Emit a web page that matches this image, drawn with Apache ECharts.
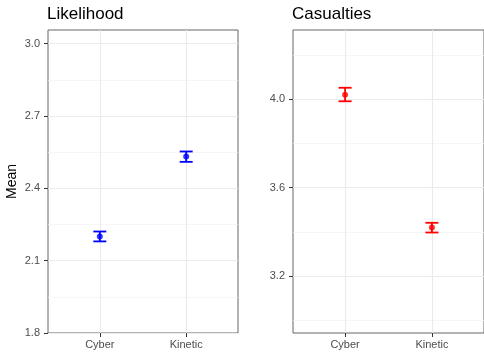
<!DOCTYPE html>
<html>
<head>
<meta charset="utf-8">
<script src="https://cdn.jsdelivr.net/npm/echarts@6/dist/echarts.min.js"></script>
<style>html,body{margin:0;padding:0;background:#fff}#c{width:484px;height:352px}</style>
</head>
<body>
<div id="c"></div>
<script>
const categories = ['Cyber', 'Kinetic'];
const likelihoodMean = [2.200, 2.532];
const likelihoodLow = [2.180, 2.510];
const likelihoodHigh = [2.221, 2.553];
const casualtiesMean = [4.020, 3.420];
const casualtiesLow = [3.990, 3.397];
const casualtiesHigh = [4.051, 3.441];
const likelihoodTicks = [1.8, 2.1, 2.4, 2.7, 3.0];
const likelihoodMinor = [1.95, 2.25, 2.55, 2.85];
const casualtiesTicks = [3.2, 3.6, 4.0];
const casualtiesMinor = [3.0, 3.4, 3.8, 4.2];
const panelTitles = ['Likelihood', 'Casualties'];

const FONT = '"Liberation Sans", Arial, Helvetica, sans-serif';
const catPos = categories.map((c, i) => i + 1);

function xAxisFor(gi) {
  return {
    type: 'value', gridIndex: gi, min: 0.4, max: 2.6,
    axisLine: {show: false},
    axisTick: {show: true, customValues: catPos, length: 4, lineStyle: {color: '#333', width: 1}},
    axisLabel: {customValues: catPos, formatter: v => categories[Math.round(v) - 1] || '',
      color: '#4d4d4d', fontSize: 11, fontFamily: FONT, margin: 6},
    splitLine: {show: true, lineStyle: {color: '#ebebeb', width: 1.1}}
  };
}
function yAxisMajor(gi, ticks, min, max, name) {
  return {
    type: 'value', gridIndex: gi, min: min, max: max,
    name: name || '', nameLocation: 'middle', nameGap: 29, nameRotate: 90,
    nameTextStyle: {fontSize: 14, color: '#000', fontFamily: FONT},
    axisLine: {show: false},
    axisTick: {show: true, customValues: ticks, length: 4, lineStyle: {color: '#333', width: 1}},
    axisLabel: {customValues: ticks, formatter: v => v.toFixed(1), color: '#4d4d4d', fontSize: 11, fontFamily: FONT, margin: 8},
    splitLine: {show: true, lineStyle: {color: '#ebebeb', width: 1.1}}
  };
}
function yAxisMinor(gi, ticks, min, max) {
  return {
    type: 'value', gridIndex: gi, min: min, max: max, position: 'left',
    axisLine: {show: false},
    axisTick: {show: false, customValues: ticks},
    axisLabel: {show: false, customValues: ticks},
    splitLine: {show: true, lineStyle: {color: '#f2f2f2', width: 0.7}}
  };
}
function errSeries(xi, yi, low, high, color) {
  return {
    type: 'custom', xAxisIndex: xi, yAxisIndex: yi, z: 5,
    data: catPos.map((x, i) => [x, low[i], high[i]]),
    renderItem: function (params, api) {
      const x = api.value(0);
      const p1 = api.coord([x, api.value(1)]);
      const p2 = api.coord([x, api.value(2)]);
      const hw = api.size([0.075, 0])[0];
      const st = {stroke: color, lineWidth: 1.8};
      return {type: 'group', children: [
        {type: 'line', shape: {x1: p1[0], y1: p1[1], x2: p2[0], y2: p2[1]}, style: st},
        {type: 'line', shape: {x1: p1[0] - hw, y1: p1[1], x2: p1[0] + hw, y2: p1[1]}, style: st},
        {type: 'line', shape: {x1: p2[0] - hw, y1: p2[1], x2: p2[0] + hw, y2: p2[1]}, style: st}
      ]};
    }
  };
}
function pointSeries(xi, yi, mean, color) {
  return {
    type: 'scatter', xAxisIndex: xi, yAxisIndex: yi, z: 6, symbolSize: 6,
    itemStyle: {color: color}, data: catPos.map((x, i) => [x, mean[i]])
  };
}

const option = {
  animation: false,
  backgroundColor: '#fff',
  title: [
    {text: panelTitles[0], left: 47, top: 6, padding: 0, textStyle: {fontSize: 17, fontWeight: 'normal', color: '#000', fontFamily: FONT}},
    {text: panelTitles[1], left: 292, top: 6, padding: 0, textStyle: {fontSize: 17, fontWeight: 'normal', color: '#000', fontFamily: FONT}}
  ],
  grid: [
    {left: 48, top: 30, width: 190, height: 303, show: true, borderColor: '#666', borderWidth: 1, backgroundColor: 'transparent'},
    {left: 293, top: 30, width: 192, height: 303, show: true, borderColor: '#666', borderWidth: 1, backgroundColor: 'transparent'}
  ],
  xAxis: [xAxisFor(0), xAxisFor(1)],
  yAxis: [
    yAxisMajor(0, likelihoodTicks, 1.8, 3.057, 'Mean'),
    yAxisMinor(0, likelihoodMinor, 1.8, 3.057),
    yAxisMajor(1, casualtiesTicks, 2.943, 4.312, ''),
    yAxisMinor(1, casualtiesMinor, 2.943, 4.312)
  ],
  series: [
    errSeries(0, 0, likelihoodLow, likelihoodHigh, '#0000ff'),
    pointSeries(0, 0, likelihoodMean, '#0000ff'),
    errSeries(1, 2, casualtiesLow, casualtiesHigh, '#ff0000'),
    pointSeries(1, 2, casualtiesMean, '#ff0000')
  ]
};
echarts.init(document.getElementById('c'), null, {renderer: 'canvas'}).setOption(option);
</script>
</body>
</html>
